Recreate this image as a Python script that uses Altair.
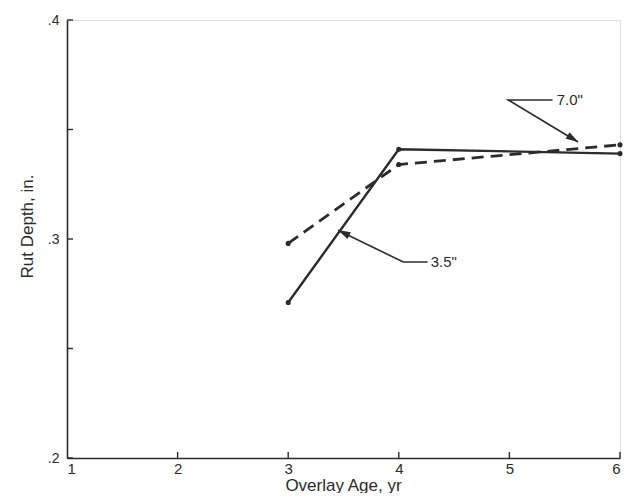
import altair as alt
import pandas as pd

# ---- data ----
age = [3, 4, 6]
rut_35 = [0.271, 0.341, 0.339]   # 3.5" overlay (solid)
rut_70 = [0.298, 0.334, 0.343]   # 7.0" overlay (dashed)

x_ticks = [1, 2, 3, 4, 5, 6]
y_ticks = [0.2, 0.25, 0.3, 0.35, 0.4]

ann_labels = ['3.5"', '7.0"']
ann_text_x = [4.27, 5.41]
ann_text_y = [0.2895, 0.3635]
# leader lines: start (near text) -> elbow -> arrow tip
lead_x = [[4.26, 4.04, 3.45], [5.39, 4.99, 5.62]]
lead_y = [[0.2895, 0.2895, 0.304], [0.3635, 0.3635, 0.3443]]
head_x = [3.50, 5.575]
head_y = [0.3028, 0.3458]
head_angle = [296, 121]

INK = "#2b2b2b"
FONT = "Liberation Sans"

df = pd.DataFrame({
    "age": age * 2,
    "rut": rut_35 + rut_70,
    "series": ['3.5"'] * len(age) + ['7.0"'] * len(age),
})

lead_rows = []
for i, lab in enumerate(ann_labels):
    for j, (lx, ly) in enumerate(zip(lead_x[i], lead_y[i])):
        lead_rows.append({"lab": lab, "o": j, "x": lx, "y": ly})
lead_df = pd.DataFrame(lead_rows)
head_df = pd.DataFrame({"x": head_x, "y": head_y, "angle": head_angle})
text_df = pd.DataFrame({"x": ann_text_x, "y": ann_text_y, "t": ann_labels})

xs = alt.Scale(domain=[1, 6], nice=False, zero=False)
ys = alt.Scale(domain=[0.2, 0.4], nice=False, zero=False)

x_axis = alt.Axis(
    values=x_ticks, format="d", ticks=False, grid=False,
    domainColor=INK, domainWidth=1.6, labelColor=INK, labelFont=FONT,
    labelFontSize=15, labelPadding=3,
    title="Overlay Age, yr", titleFont=FONT, titleFontSize=17,
    titleFontWeight="normal", titleColor=INK,
    titleX=276, titleY=27, titleBaseline="middle", titleAlign="center",
)
y_axis = alt.Axis(
    values=y_ticks, ticks=False, grid=False,
    labelExpr="abs(datum.value*10 - round(datum.value*10)) < 0.001 ? replace(format(datum.value, '.1f'), '0.', '.') : ''",
    domainColor=INK, domainWidth=1.6, labelColor=INK, labelFont=FONT,
    labelFontSize=14, labelPadding=8,
    title="Rut Depth, in.", titleFont=FONT, titleFontSize=17,
    titleFontWeight="normal", titleColor=INK,
    titleX=-40, titleY=206, titleAngle=270, titleBaseline="middle",
    titleAlign="center",
)

base_x = alt.X("age:Q", scale=xs, axis=x_axis)
base_y = alt.Y("rut:Q", scale=ys, axis=y_axis)

solid = alt.Chart(df).transform_filter(alt.datum.series == '3.5"').mark_line(
    color=INK, strokeWidth=2.4
).encode(x=base_x, y=base_y)
dashed = alt.Chart(df).transform_filter(alt.datum.series == '7.0"').mark_line(
    color=INK, strokeWidth=2.8, strokeDash=[12, 7]
).encode(x=base_x, y=base_y)
pts = alt.Chart(df).mark_circle(color=INK, size=26, opacity=1).encode(
    x=alt.X("age:Q", scale=xs), y=alt.Y("rut:Q", scale=ys)
)

# inward ticks
ytick_df = pd.DataFrame({"v": y_ticks})
xtick_df = pd.DataFrame({"v": x_ticks[1:]})
yticks = alt.Chart(ytick_df).mark_rule(color=INK, strokeWidth=1.4).encode(
    y=alt.Y("v:Q", scale=ys), x=alt.value(0), x2=alt.value(6)
)
xticks = alt.Chart(xtick_df).mark_rule(color=INK, strokeWidth=1.4).encode(
    x=alt.X("v:Q", scale=xs), y=alt.value(438), y2=alt.value(432)
)

leaders = alt.Chart(lead_df).mark_line(color=INK, strokeWidth=1.6).encode(
    x=alt.X("x:Q", scale=xs), y=alt.Y("y:Q", scale=ys),
    detail="lab:N", order="o:Q"
)
heads = alt.Chart(head_df).mark_point(
    shape="M0,-1 L0.6,1 L-0.6,1 Z", filled=True, color=INK, size=160, opacity=1
).encode(
    x=alt.X("x:Q", scale=xs), y=alt.Y("y:Q", scale=ys), angle=alt.Angle("angle:Q", scale=None)
)
texts = alt.Chart(text_df).mark_text(
    align="left", baseline="middle", dx=2, font=FONT, fontSize=15, color=INK
).encode(x=alt.X("x:Q", scale=xs), y=alt.Y("y:Q", scale=ys), text="t:N")

chart = alt.layer(
    solid, dashed, pts, yticks, xticks, leaders, heads, texts
).properties(
    width=553, height=438,
    autosize=alt.AutoSizeParams(type="none"),
    padding={"left": 59, "top": 12, "right": 6, "bottom": 35},
).configure_view(stroke=None).configure(background="white")

chart.save("out.html", embed_options={"renderer": "svg", "actions": False})
